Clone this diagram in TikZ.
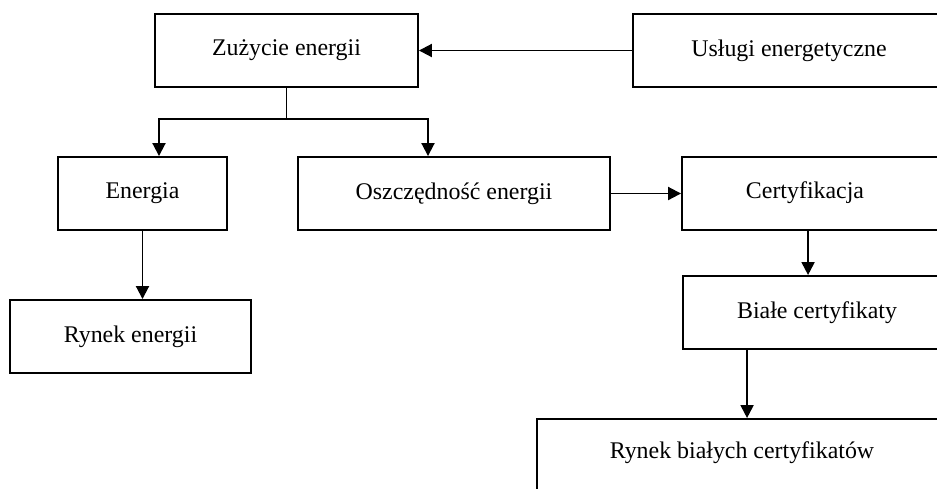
\documentclass[tikz,border=0pt]{standalone}
\usepackage{fontspec}
\setmainfont{Liberation Serif}
\usetikzlibrary{arrows.meta,calc}

\tikzset{
  box/.style={draw, line width=1.1pt, minimum height=1.46cm, inner sep=0pt},
  txt/.style={inner sep=0pt},
  arr/.style={line width=1.1pt, -{Triangle[length=0.26cm,width=0.26cm]}},
  ln/.style={line width=1.1pt}
}

\begin{document}
\begin{tikzpicture}[x=0.02cm, y=-0.02cm]
            \useasboundingbox (0,0) rectangle (937,488);
            \clip (0,0) rectangle (937,488);
            {\fontsize{13.6}{16}\selectfont

            % Boxes of the upper row
            \node [box, minimum width=5.26cm] (zuz) at (286.5,50.5) {Zużycie energii};%
            \node [box, minimum width=6.24cm] (usl) at (789,50.5) {Usługi energetyczne};%

            % Boxes of the middle row
            \node [box, minimum width=3.38cm] (ene) at (142.5,193.5) {Energia};%
            \node [box, minimum width=6.24cm] (osz) at (454,193.5) {Oszczędność energii};%
            \node [box, minimum width=5.56cm] (cert) at (821,193.5) {};%
            \node [txt] (certtxt) at (805,193) {Certyfikacja};%

            % Boxes of the lower rows
            \node [box, minimum width=4.82cm] (rye) at (130.5,336.5) {Rynek energii};%
            \node [box, minimum width=5.56cm] (biale) at (822,312.5) {};%
            \node [txt] (bialetxt) at (817,313) {Białe certyfikaty};%
            \node [box, minimum width=8.46cm, minimum height=1.8cm] (rbc) at (748.5,464) {};%
            \node [txt] (rbctxt) at (742,453) {Rynek białych certyfikatów};%

            % Drawing connectors
            \draw [arr] (usl.west) -- (zuz.east);%
            \draw [ln] (zuz.south) -- ++(0,31) coordinate (split);%
            \draw [arr] (split) -| ($(ene.north)+(16.5,0)$);%
            \draw [arr] (split) -| ($(osz.north)+(-26,0)$);%
            \draw [arr] (ene.south) -- (ene.south |- rye.north);%
            \draw [arr] (osz.east) -- (cert.west);%
            \coordinate (certout) at ($(cert.south west)+(127,0)$);%
            \draw [arr] (certout) -- (certout |- biale.north);%
            \coordinate (bialeout) at ($(biale.south west)+(65,0)$);%
            \draw [arr] (bialeout) -- (bialeout |- rbc.north);%
            }
\end{tikzpicture}
\end{document}
